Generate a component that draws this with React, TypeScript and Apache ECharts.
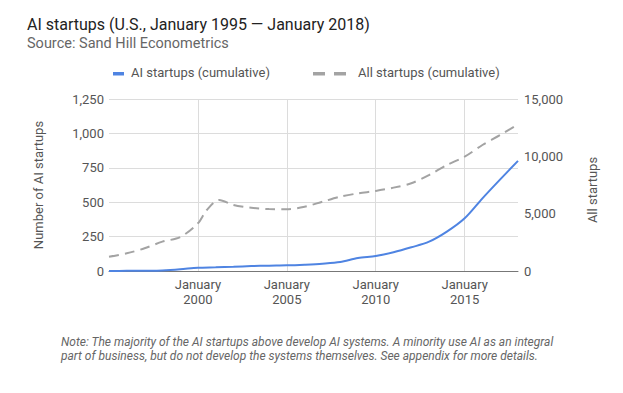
import React, { useEffect, useRef } from "react";
import * as echarts from "echarts";

const aiYears = [1995, 1996, 1997, 1998, 1999, 2000, 2001, 2002, 2003, 2004, 2005, 2006, 2007, 2008, 2009, 2010, 2011, 2012, 2013, 2014, 2015, 2016, 2017, 2018];
const aiValues = [0, 1, 2, 4, 12, 24, 27, 31, 36, 39, 41, 46, 53, 65, 95, 109, 136, 172, 213, 286, 383, 528, 666, 800];

const allYears = [1995, 1996, 1997, 1998, 1999, 2000, 2000.5, 2001.2, 2002, 2003, 2004, 2005, 2006, 2007, 2008, 2009, 2010, 2011, 2012, 2013, 2014, 2015, 2016, 2017, 2018];
const allValues = [1250, 1540, 1980, 2560, 2950, 4160, 5320, 6200, 5760, 5520, 5400, 5380, 5600, 6040, 6480, 6770, 6980, 7270, 7650, 8370, 9240, 9970, 10990, 11860, 12790];

const leftTicks = [0, 250, 500, 750, 1000, 1250];
const rightTicks = [0, 5000, 10000, 15000];

const title = "AI startups (U.S., January 1995 \u2014 January 2018)";
const subtitle = "Source: Sand Hill Econometrics";
const legendAI = "AI startups (cumulative)";
const legendAll = "All startups (cumulative)";
const noteLines = [
  "Note: The majority of the AI startups above develop AI systems. A minority use AI as an integral",
  "part of business, but do not develop the systems themselves. See appendix for more details.",
];

const FONT = "Roboto";
const BLUE = "#4f84e2";
const GRAY = "#a3a3a3";

const fmt = (v: number) => v.toLocaleString("en-US");

export default function App() {
  const ref = useRef<HTMLDivElement>(null);
  useEffect(() => {
    if (!ref.current) return;
    const chart = echarts.init(ref.current, undefined, { renderer: "svg" });
    chart.setOption({
      animation: false,
      textStyle: { fontFamily: FONT },
      grid: { left: 109, right: 105, top: 99, bottom: 122 },
      xAxis: {
        type: "value",
        min: 1995,
        max: 2018,
        interval: 5,
        axisLine: { show: true, lineStyle: { color: "#777", width: 1 } },
        axisTick: { show: false },
        splitLine: { show: true, showMinLine: false, showMaxLine: false, lineStyle: { color: "#dcdcdc" } },
        axisLabel: {
          color: "#555",
          fontSize: 13,
          lineHeight: 15,
          fontFamily: FONT,
          margin: 6,
          showMinLabel: false,
          showMaxLabel: false,
          formatter: (v: number) => (v === 1995 || v === 2018 ? "" : "January\n" + v),
        },
      },
      yAxis: [
        {
          type: "value",
          min: leftTicks[0],
          max: leftTicks[leftTicks.length - 1],
          interval: 250,
          name: "Number of AI startups",
          nameLocation: "middle",
          nameGap: 64,
          nameTextStyle: { color: "#555", fontSize: 13, fontFamily: FONT },
          axisLine: { show: false },
          axisTick: { show: false },
          splitLine: { lineStyle: { color: "#dcdcdc" } },
          axisLabel: { color: "#555", fontSize: 13, fontFamily: FONT, margin: 5, formatter: fmt },
        },
        {
          type: "value",
          min: rightTicks[0],
          max: rightTicks[rightTicks.length - 1],
          interval: 5000,
          name: "All startups",
          nameLocation: "middle",
          nameGap: 68,
          nameTextStyle: { color: "#555", fontSize: 13, fontFamily: FONT, padding: [0, 10, 0, 0] },
          axisLine: { show: false },
          axisTick: { show: false },
          splitLine: { show: false },
          axisLabel: { color: "#555", fontSize: 13, fontFamily: FONT, margin: 6, formatter: fmt },
        },
      ],
      series: [
        {
          name: legendAll,
          type: "line",
          yAxisIndex: 1,
          data: allYears.map((y, i) => [y, allValues[i]]),
          smooth: 0.3,
          showSymbol: false,
          symbol: "none",
          lineStyle: { color: GRAY, width: 2, type: [10, 6] },
        },
        {
          name: legendAI,
          type: "line",
          yAxisIndex: 0,
          data: aiYears.map((y, i) => [y, aiValues[i]]),
          smooth: 0.3,
          showSymbol: false,
          symbol: "none",
          lineStyle: { color: BLUE, width: 2 },
        },
      ],
      graphic: [
        { type: "text", left: 27, top: 16, style: { text: title, font: `16px ${FONT}`, fill: "#222" } },
        { type: "text", left: 27, top: 36, style: { text: subtitle, font: `14.5px ${FONT}`, fill: "#666" } },
        { type: "rect", shape: { x: 113, y: 72, width: 11, height: 3.5 }, style: { fill: BLUE } },
        { type: "text", left: 131, top: 66, style: { text: legendAI, font: `13px ${FONT}`, fill: "#555" } },
        { type: "rect", shape: { x: 313, y: 72, width: 12, height: 3.5 }, style: { fill: GRAY } },
        { type: "rect", shape: { x: 334, y: 72, width: 12, height: 3.5 }, style: { fill: GRAY } },
        { type: "text", left: 358, top: 66, style: { text: legendAll, font: `13px ${FONT}`, fill: "#555" } },
        { type: "text", left: 61, top: 336, style: { text: noteLines[0], font: `italic 12px ${FONT}`, fill: "#666" } },
        { type: "text", left: 61, top: 350, style: { text: noteLines[1], font: `italic 12px ${FONT}`, fill: "#666" } },
      ],
    });
    return () => chart.dispose();
  }, []);
  return <div ref={ref} style={{ width: 623, height: 393, position: "absolute", left: 0, top: 0, background: "#fff" }} />;
}
